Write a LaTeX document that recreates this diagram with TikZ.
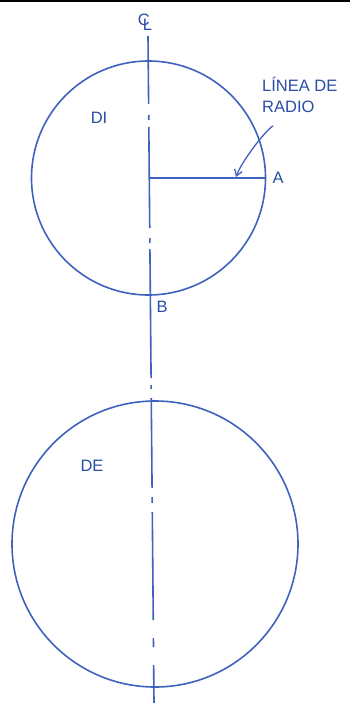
\documentclass[tikz,border=0pt]{standalone}
\usepackage{fontspec}
\setmainfont{Liberation Sans}
\usetikzlibrary{arrows.meta,calc}
\definecolor{Paper}{HTML}{FFFFFF}
\definecolor{Pen}{HTML}{3F62BE}
\definecolor{Ink}{HTML}{2C4DA6}
\tikzset{outline/.style={draw=Pen,line width=1.6pt},axisdash/.style={draw=Pen,line width=1.6pt,line cap=butt},tag/.style={text=Ink,inner sep=0pt,align=left,font=\fontsize{16.5}{21}\selectfont},leader/.style={draw=Pen,line width=1.3pt,-{Straight Barb[length=6pt,width=8pt]}}}

\begin{document}
\begin{tikzpicture}[x=1pt,y=-1pt]
\useasboundingbox[fill=Paper] (0,0) rectangle (350,703);
\draw[black,line width=1.5pt] (0,1)--(350,1);
\coordinate (di) at (148.5,178);\coordinate (de) at (155,544);
\draw[outline] (di) circle[radius=117pt];\draw[outline] (de) circle[radius=143pt];
\foreach \ya/\yb in {36/104,115/120,127/228,238/243,249/378,385/389,398/488,497/503,512/620,638/647,665/703}{\draw[axisdash] ({148+(\ya-36)*0.009},\ya)--({148+(\yb-36)*0.009},\yb);}
\node[tag] (cl) at (145,22) {C\kern-.42em\raisebox{-.32em}{L}};
\coordinate (a) at (265.5,178);\coordinate (tip) at (236,177);
\draw[outline] (di)--(a);
\node[tag,anchor=north west] (radiolbl) at (262,77) {LÍNEA DE\\RADIO};
\draw[leader] ($(radiolbl.south west)+(11,13)$) .. controls +(-10,7) and +(5,-14) .. (tip);
\node[tag] (ptA) at (278,178) {A};\node[tag] (ptB) at (162,307) {B};
\node[tag] (lblDI) at (99,118) {DI};\node[tag] (lblDE) at (92,466) {DE};
\end{tikzpicture}
\end{document}
